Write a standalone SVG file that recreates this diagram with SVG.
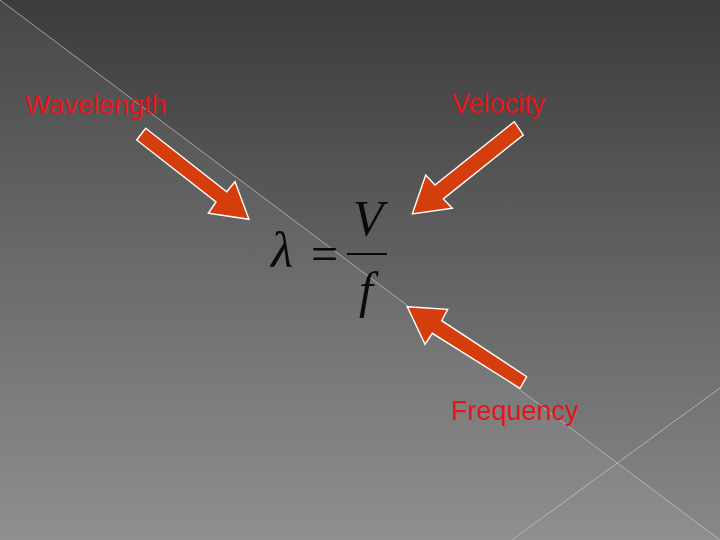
<svg xmlns="http://www.w3.org/2000/svg" width="720" height="540" viewBox="0 0 720 540">
<defs>
<linearGradient id="bg" x1="0" y1="0" x2="0" y2="1">
<stop offset="0" stop-color="#3c3c3c"/>
<stop offset="1" stop-color="#888888"/>
</linearGradient>
<style>
.lbl{font-family:"Liberation Sans",Arial,sans-serif;font-size:27px;fill:#e3161c}
.math{font-family:"Liberation Serif","Times New Roman",serif;fill:#0a0a0a}
.arrow{fill:#d53e0c;stroke:#ffffff;stroke-width:1.4;stroke-linejoin:miter}
.deco{stroke:#c8c8c8;stroke-width:1;fill:none;opacity:0.7}
</style>
</defs>
<g id="background">
<rect x="0" y="0" width="720" height="540" fill="url(#bg)"/>
<polygon points="0,0 720,540 0,540" fill="#ffffff" opacity="0.06"/>
<line class="deco" x1="0" y1="0" x2="720" y2="540"/>
<line class="deco" x1="720" y1="388" x2="512" y2="540"/>
</g>
<g id="connectors">
<polygon class="arrow" points="145.7,128.3 226.7,191.7 235,181.7 249,219.3 208.3,213.3 216,202 136.7,140"/>
<polygon class="arrow" points="514.3,121.7 435,185 425.7,175 412.3,214 452.3,208.3 443.3,198.9 523.3,135"/>
<polygon class="arrow" points="407.3,306.7 447.7,309.3 441.7,320.7 526.7,376.7 520,388.3 432.3,333.3 425,344.3"/>
</g>
<g id="wavelength">
<text class="lbl" x="25" y="114">Wavelength</text>
</g>
<g id="velocity">
<text class="lbl" x="452" y="113">Velocity</text>
</g>
<g id="frequency">
<text class="lbl" x="451" y="420">Frequency</text>
</g>
<g id="formula">
<text class="math" x="271" y="267" font-size="51" font-style="italic">λ</text>
<text class="math" x="311" y="270" font-size="48">=</text>
<line x1="347" y1="254" x2="387" y2="254" stroke="#0a0a0a" stroke-width="2"/>
<text class="math" x="368" y="235" font-size="50" font-style="italic" text-anchor="middle">V</text>
<text class="math" x="366" y="307" font-size="50" font-style="italic" text-anchor="middle">f</text>
</g>
</svg>
